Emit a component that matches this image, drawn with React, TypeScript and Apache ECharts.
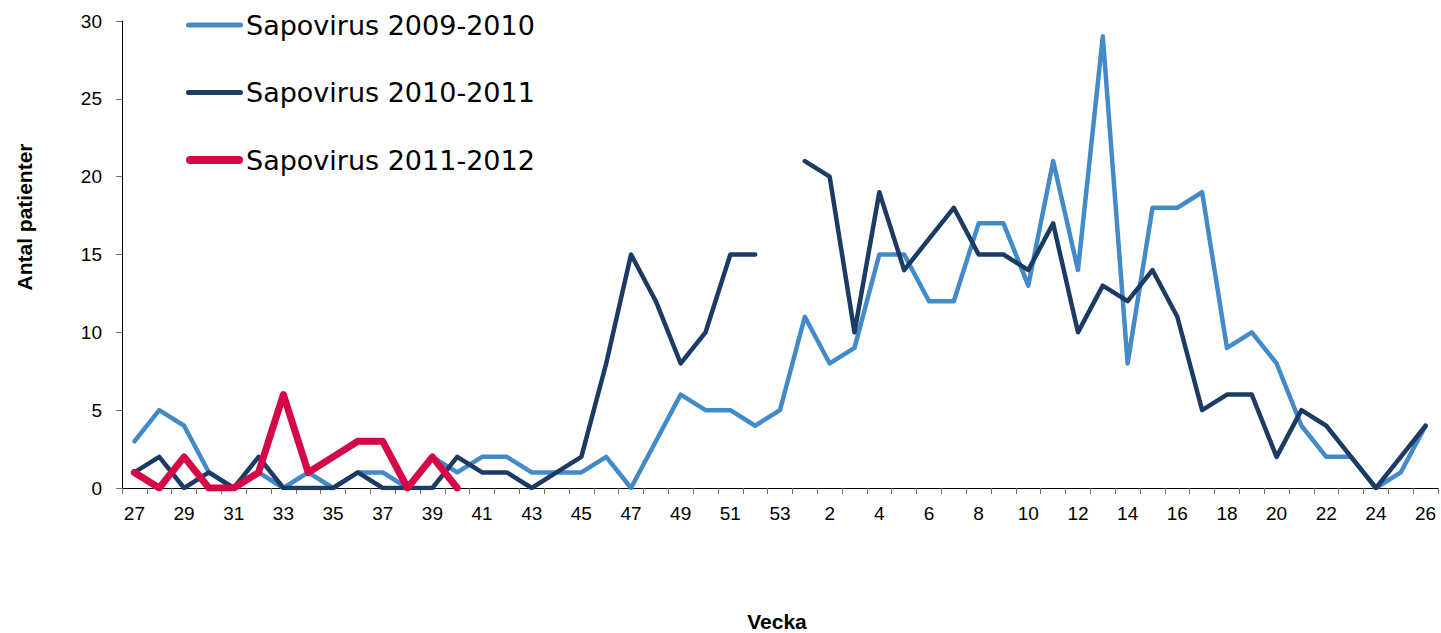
import React, { useEffect, useRef } from "react";
import * as echarts from "echarts";

const weeks: string[] = [
  "27","28","29","30","31","32","33","34","35","36","37","38","39","40",
  "41","42","43","44","45","46","47","48","49","50","51","52","53",
  "1","2","3","4","5","6","7","8","9","10","11","12","13","14","15",
  "16","17","18","19","20","21","22","23","24","25","26",
];

const s2009: (number | null)[] = [
  3, 5, 4, 1, 0, 1, 0, 1, 0, 1, 1, 0, 2, 1,
  2, 2, 1, 1, 1, 2, 0, 3, 6, 5, 5, 4, 5,
  11, 8, 9, 15, 15, 12, 12, 17, 17, 13, 21, 14, 29, 8, 18,
  18, 19, 9, 10, 8, 4, 2, 2, 0, 1, 4,
];

const s2010: (number | null)[] = [
  1, 2, 0, 1, 0, 2, 0, 0, 0, 1, 0, 0, 0, 2,
  1, 1, 0, 1, 2, 8, 15, 12, 8, 10, 15, 15, null,
  21, 20, 10, 19, 14, 16, 18, 15, 15, 14, 17, 10, 13, 12, 14,
  11, 5, 6, 6, 2, 5, 4, 2, 0, 2, 4,
];

const s2011: (number | null)[] = [
  1, 0, 2, 0, 0, 1, 6, 1, 2, 3, 3, 0, 2, 0,
];

const seriesNames = ["Sapovirus 2009-2010", "Sapovirus 2010-2011", "Sapovirus 2011-2012"];
const yTicks = [0, 5, 10, 15, 20, 25, 30];

// legend icons: 57x8 box; thin bar (5px) for the first two, full 8px bar for the third
const thinIcon =
  "path://M0,0 L0,0 M2.5,1.5 L54.5,1.5 A2.5,2.5 0 0 1 54.5,6.5 L2.5,6.5 A2.5,2.5 0 0 1 2.5,1.5 Z M57,8 L57,8";
const thickIcon =
  "path://M4,0 L53,0 A4,4 0 0 1 53,8 L4,8 A4,4 0 0 1 4,0 Z";

export default function App() {
  const ref = useRef<HTMLDivElement>(null);
  useEffect(() => {
    if (!ref.current) return;
    const chart = echarts.init(ref.current, undefined, { renderer: "svg" });
    const axisFont = "Liberation Sans, Arial, sans-serif";
    chart.setOption({
      animation: false,
      backgroundColor: "#ffffff",
      grid: { left: 122, right: 3, top: 21, bottom: 145, containLabel: false },
      legend: {
        orient: "vertical",
        left: 181,
        top: 5,
        itemWidth: 57,
        itemHeight: 8,
        itemGap: 37.5,
        data: [
          { name: seriesNames[0], icon: thinIcon },
          { name: seriesNames[1], icon: thinIcon },
          { name: seriesNames[2], icon: thickIcon },
        ],
        textStyle: {
          fontFamily: "DejaVu Sans, Verdana, sans-serif",
          fontSize: 27,
          color: "#000",
          lineHeight: 30,
          padding: [0, 0, 0, -2],
        },
      },
      xAxis: {
        type: "category",
        data: weeks,
        boundaryGap: true,
        axisLine: { lineStyle: { color: "#000", width: 1 } },
        axisTick: { show: true, interval: 0, length: 6, lineStyle: { color: "#707070" } },
        axisLabel: {
          interval: 1,
          color: "#000",
          fontSize: 19,
          fontFamily: axisFont,
          margin: 16,
        },
        splitLine: { show: false },
      },
      yAxis: {
        type: "value",
        min: yTicks[0],
        max: yTicks[yTicks.length - 1],
        interval: 5,
        axisLine: { show: true, lineStyle: { color: "#000", width: 1 } },
        axisTick: { show: true, length: 6, lineStyle: { color: "#707070" } },
        axisLabel: { color: "#000", fontSize: 19, fontFamily: axisFont, margin: 20 },
        splitLine: { show: false },
      },
      graphic: [
        {
          type: "text",
          x: 24,
          y: 217,
          rotation: Math.PI / 2,
          style: {
            text: "Antal patienter",
            fontFamily: axisFont,
            fontWeight: "bold",
            fontSize: 21,
            fill: "#000",
            textAlign: "center",
            textVerticalAlign: "middle",
          },
        },
        {
          type: "text",
          x: 777,
          y: 621,
          style: {
            text: "Vecka",
            fontFamily: axisFont,
            fontWeight: "bold",
            fontSize: 21,
            fill: "#000",
            textAlign: "center",
            textVerticalAlign: "middle",
          },
        },
      ],
      series: [
        {
          name: seriesNames[0],
          type: "line",
          data: s2009,
          symbol: "none",
          connectNulls: false,
          lineStyle: { color: "#428AC8", width: 4.5, cap: "round", join: "round" },
          itemStyle: { color: "#428AC8" },
          z: 2,
        },
        {
          name: seriesNames[1],
          type: "line",
          data: s2010,
          symbol: "none",
          connectNulls: false,
          lineStyle: { color: "#1B3A64", width: 4.5, cap: "round", join: "round" },
          itemStyle: { color: "#1B3A64" },
          z: 3,
        },
        {
          name: seriesNames[2],
          type: "line",
          data: s2011,
          symbol: "none",
          connectNulls: false,
          lineStyle: { color: "#D60747", width: 7, cap: "round", join: "round" },
          itemStyle: { color: "#D60747" },
          z: 4,
        },
      ],
    });
    return () => chart.dispose();
  }, []);
  return <div ref={ref} style={{ width: 1441, height: 633, position: "absolute", left: 0, top: 0 }} />;
}
